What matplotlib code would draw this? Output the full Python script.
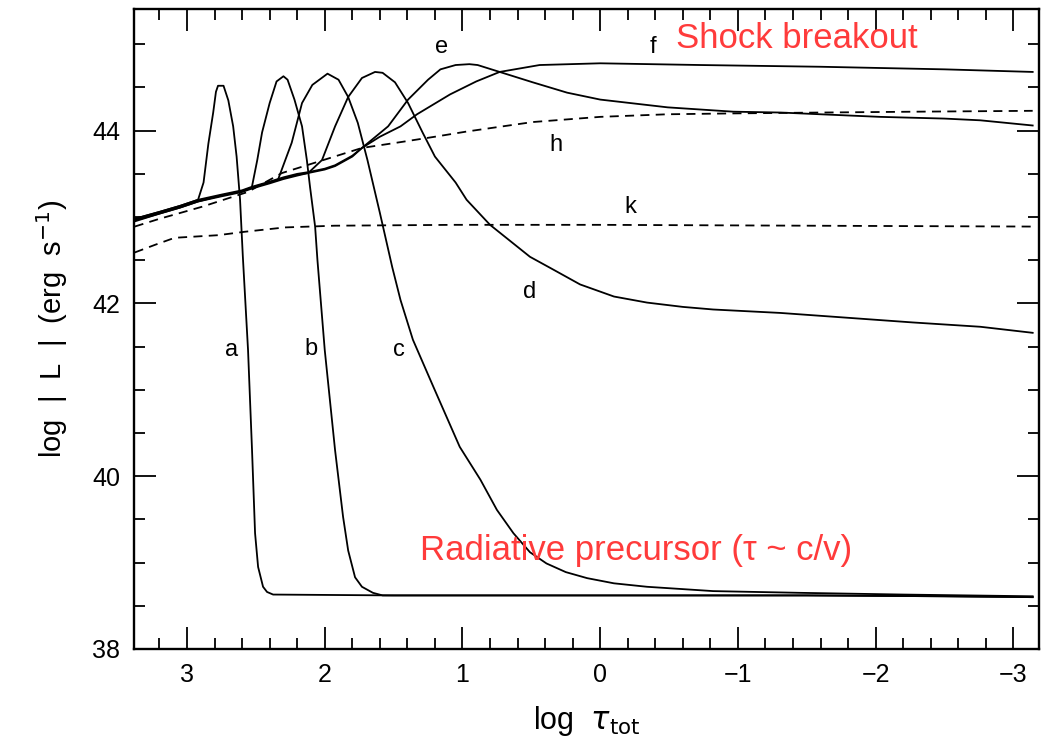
import matplotlib
matplotlib.use("Agg")
import matplotlib.pyplot as plt
from matplotlib.ticker import MultipleLocator, FixedLocator

plt.rcParams['font.family'] = ['Liberation Sans', 'DejaVu Sans']

# ---- data (log tau_tot, log L) ----
xa = [3.38, 3.2, 3.05, 2.92, 2.88, 2.845, 2.81, 2.79, 2.775, 2.735, 2.70, 2.665, 2.64, 2.615, 2.595,
      2.557, 2.528, 2.506, 2.484, 2.448, 2.419, 2.375, 1.5, 0.5, -0.5, -1.5, -2.5, -3.14]
ya = [42.98, 43.06, 43.13, 43.20, 43.40, 43.85, 44.21, 44.45, 44.52, 44.52, 44.35, 44.05, 43.70, 43.20, 42.55,
      41.46, 40.30, 39.34, 38.95, 38.72, 38.66, 38.63, 38.62, 38.62, 38.62, 38.62, 38.61, 38.60]

xb = [3.38, 3.2, 3.05, 2.92, 2.75, 2.6, 2.53, 2.49, 2.455, 2.40, 2.35, 2.30, 2.27, 2.22, 2.165, 2.13, 2.107,
      2.07, 2.053, 2.0, 1.925, 1.867, 1.83, 1.78, 1.73, 1.65, 1.58, 0.5, -0.5, -1.5, -2.5, -3.14]
yb = [42.97, 43.05, 43.12, 43.19, 43.25, 43.30, 43.34, 43.66, 43.98, 44.32, 44.57, 44.63, 44.59, 44.36, 44.05, 43.66, 43.35,
      42.89, 42.50, 41.46, 40.30, 39.53, 39.14, 38.83, 38.72, 38.65, 38.62, 38.62, 38.62, 38.62, 38.61, 38.60]

xc = [3.38, 3.2, 3.05, 2.92, 2.75, 2.6, 2.53, 2.45, 2.34, 2.24, 2.165, 2.09, 1.98, 1.90, 1.83, 1.76, 1.69,
      1.60, 1.51, 1.45, 1.36, 1.21, 1.02, 0.87, 0.75, 0.63, 0.51, 0.39, 0.25, 0.095, -0.1, -0.34, -0.82,
      -1.45, -2.2, -3.14]
yc = [42.96, 43.04, 43.11, 43.18, 43.25, 43.30, 43.34, 43.38, 43.43, 43.86, 44.32, 44.53, 44.66, 44.59, 44.39, 44.09, 43.66,
      43.05, 42.42, 42.04, 41.58, 41.03, 40.34, 39.96, 39.61, 39.34, 39.12, 38.99, 38.89, 38.82, 38.76, 38.72, 38.67,
      38.65, 38.63, 38.61]

xd = [3.38, 3.2, 3.05, 2.92, 2.75, 2.6, 2.53, 2.40, 2.30, 2.20, 2.12, 2.02, 1.925, 1.83, 1.73, 1.635, 1.58,
      1.49, 1.395, 1.29, 1.20, 1.05, 0.97, 0.80, 0.51, 0.35, 0.146, -0.1, -0.34, -0.6, -0.82, -1.31, -2.27,
      -2.76, -3.14]
yd = [42.95, 43.04, 43.11, 43.18, 43.24, 43.29, 43.33, 43.39, 43.44, 43.48, 43.51, 43.66, 44.05, 44.39, 44.61, 44.68, 44.67,
      44.56, 44.32, 43.98, 43.70, 43.40, 43.20, 42.91, 42.54, 42.40, 42.22, 42.08, 42.01, 41.96, 41.93, 41.89, 41.78,
      41.73, 41.66]

xe = [3.38, 3.2, 3.05, 2.92, 2.75, 2.6, 2.53, 2.40, 2.30, 2.20, 2.12, 2.0, 1.925, 1.80, 1.73, 1.54, 1.395,
      1.25, 1.16, 1.05, 0.95, 0.89, 0.73, 0.49, 0.24, 0.0, -0.49, -0.965, -1.31, -2.03, -2.5, -2.76, -2.95, -3.14]
ye = [42.97, 43.05, 43.12, 43.19, 43.25, 43.30, 43.34, 43.40, 43.45, 43.49, 43.51, 43.55, 43.59, 43.70, 43.80, 44.05, 44.36,
      44.59, 44.71, 44.76, 44.77, 44.76, 44.68, 44.56, 44.44, 44.36, 44.27, 44.22, 44.21, 44.16, 44.14, 44.12, 44.09, 44.06]

xf = [3.38, 3.2, 3.05, 2.92, 2.75, 2.6, 2.53, 2.40, 2.30, 2.20, 2.12, 2.0, 1.925, 1.80, 1.73, 1.60, 1.45,
      1.33, 1.09, 0.90, 0.73, 0.44, 0.0, -0.73, -1.6, -2.5, -3.14]
yf = [42.98, 43.06, 43.13, 43.20, 43.26, 43.31, 43.35, 43.41, 43.46, 43.50, 43.52, 43.56, 43.60, 43.71, 43.80, 43.93, 44.05,
      44.19, 44.42, 44.57, 44.68, 44.76, 44.78, 44.76, 44.74, 44.71, 44.68]

xh = [3.38, 3.2, 3.0, 2.89, 2.56, 2.31, 2.07, 1.83, 1.73, 1.44, 1.20, 0.97, 0.49, 0.0, -0.49, -0.965, -1.6, -2.3, -3.14]
yh = [42.89, 42.98, 43.07, 43.12, 43.29, 43.51, 43.63, 43.75, 43.80, 43.87, 43.93, 43.99, 44.10, 44.16, 44.19, 44.20, 44.21, 44.22, 44.23]

xk = [3.38, 3.23, 3.09, 2.775, 2.58, 2.29, 1.93, 1.05, 0.0, -1.5, -3.14]
yk = [42.59, 42.68, 42.76, 42.79, 42.83, 42.88, 42.90, 42.91, 42.91, 42.90, 42.89]

solid_curves = [(xa, ya), (xb, yb), (xc, yc), (xd, yd), (xe, ye), (xf, yf)]
dashed_curves = [(xh, yh), (xk, yk)]

curve_labels = ['a', 'b', 'c', 'd', 'e', 'f', 'h', 'k']
label_x = [2.68, 2.10, 1.46, 0.51, 1.155, -0.38, 0.32, -0.22]
label_y = [41.46, 41.47, 41.46, 42.13, 44.97, 44.97, 43.84, 43.12]

x_major = [3, 2, 1, 0, -1, -2, -3]
y_major = [38, 40, 42, 44]

# ---- figure ----
fig = plt.figure(figsize=(10.42, 7.40), dpi=100)
ax = fig.add_axes([0.1286, 0.123, 0.8684, 0.865])

lw = 1.3
for x, y in solid_curves:
    ax.plot(x, y, color='black', lw=lw, solid_joinstyle='round')
for x, y in dashed_curves:
    ax.plot(x, y, color='black', lw=lw, linestyle=(0, (5, 3.5)))

for lab, lx, ly in zip(curve_labels, label_x, label_y):
    ax.text(lx, ly, lab, fontsize=17, ha='center', va='center', color='black')

ax.text(-1.43, 45.07, 'Shock breakout', fontsize=25, color='#ff3b3b',
        ha='center', va='center')
ax.text(-0.26, 39.14, 'Radiative precursor (\u03c4 ~ c/v)', fontsize=25, color='#ff3b3b',
        ha='center', va='center', family=['Liberation Sans', 'DejaVu Sans'])

ax.set_xlim(3.385, -3.185)
ax.set_ylim(38, 45.41)

ax.xaxis.set_major_locator(FixedLocator(x_major))
ax.xaxis.set_minor_locator(MultipleLocator(0.2))
ax.yaxis.set_major_locator(FixedLocator(y_major))
ax.yaxis.set_minor_locator(MultipleLocator(0.5))
ax.set_xticklabels(['\u2212' + str(-v) if v < 0 else str(v) for v in x_major])
ax.set_yticklabels([str(v) for v in y_major])

ax.tick_params(which='both', direction='in', top=True, right=True, width=1.3, colors='black')
ax.tick_params(which='major', length=16, labelsize=18)
ax.tick_params(axis='x', which='major', pad=10)
ax.tick_params(axis='y', which='major', pad=10)
ax.tick_params(which='minor', length=8)
for s in ax.spines.values():
    s.set_linewidth(1.7)

ax.set_xlabel(r'log  $\tau_{\mathrm{tot}}$', fontsize=22, labelpad=12)
ax.set_ylabel(r'log  |  L  |  (erg  s$^{-1}$)', fontsize=21, labelpad=16)

fig.savefig('out.png', dpi=100)
